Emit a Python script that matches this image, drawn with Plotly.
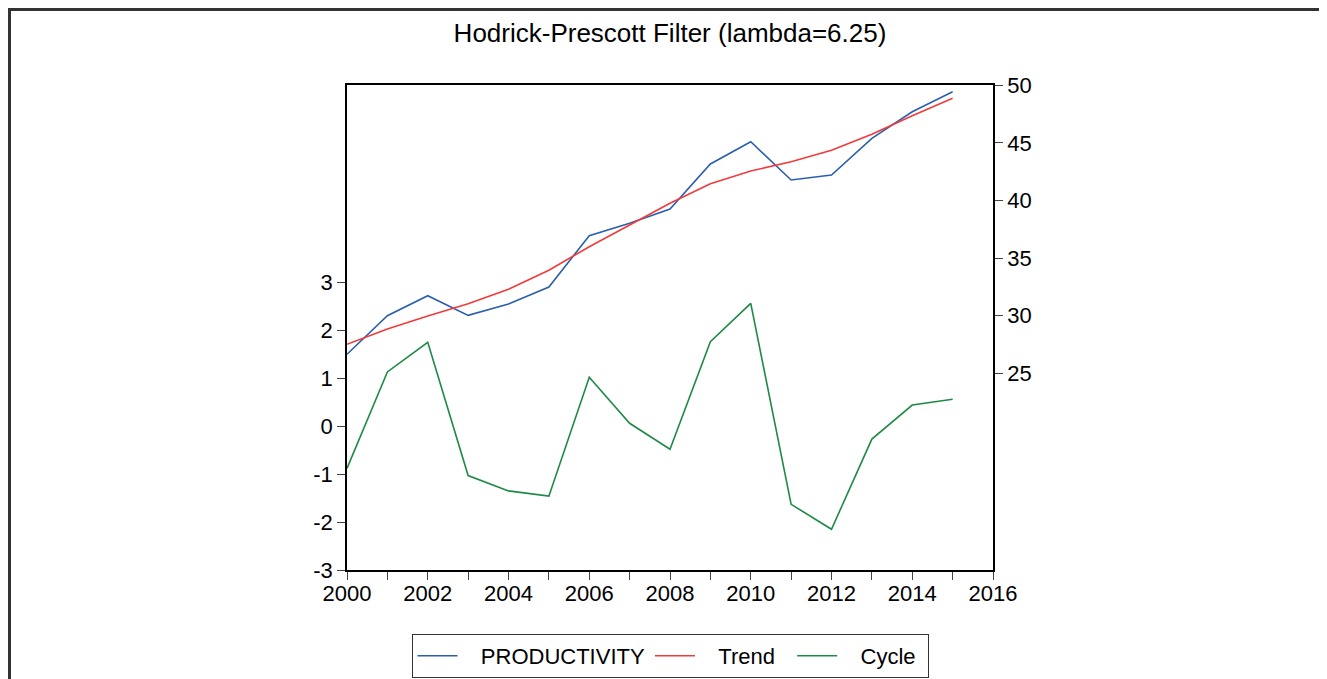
import plotly.graph_objects as go

years = list(range(2000, 2016))
productivity = [26.65, 30.00, 31.74, 30.03, 31.02, 32.49, 36.94, 38.02, 39.26, 43.17,
                45.10, 41.78, 42.21, 45.40, 47.70, 49.44]
trend = [27.52, 28.85, 29.97, 31.04, 32.29, 33.94, 35.99, 37.90, 39.76, 41.46,
         42.56, 43.37, 44.36, 45.75, 47.36, 48.87]
cycle = [-0.88, 1.13, 1.75, -1.03, -1.35, -1.46, 1.02, 0.06, -0.48, 1.76,
         2.56, -1.63, -2.15, -0.27, 0.44, 0.56]

x_tick_vals = list(range(2000, 2017))
x_tick_text = [str(v) if v % 2 == 0 else "" for v in x_tick_vals]
left_ticks = [-3, -2, -1, 0, 1, 2, 3]
left_tick_text = ["-3", "-2", "-1", "0", "1", "2", "3"]
right_ticks = [25, 30, 35, 40, 45, 50]

FONT = "Liberation Sans, Arial, sans-serif"
NB = "\u00a0"

fig = go.Figure()
fig.add_trace(go.Scatter(x=years, y=productivity, name=NB * 3 + "PRODUCTIVITY", mode="lines",
                         line=dict(color="#2B5FAE", width=1.6), yaxis="y2"))
fig.add_trace(go.Scatter(x=years, y=trend, name=NB * 3 + "Trend" + NB * 2, mode="lines",
                         line=dict(color="#F23A3A", width=1.6), yaxis="y2"))
fig.add_trace(go.Scatter(x=years, y=cycle, name=NB * 3 + "Cycle" + NB, mode="lines",
                         line=dict(color="#1E8A45", width=1.6), yaxis="y"))

# page has an 8px body margin; figure coordinates below are page coords minus 8
W, H = 1319, 671
L, R, T, B = 339, 985, 77, 562

axis_common = dict(showgrid=False, zeroline=False, showline=True, linecolor="#000000",
                   linewidth=1.5, ticks="outside", ticklen=8, tickcolor="#444444",
                   tickwidth=1.2, tickfont=dict(family=FONT, size=22, color="#000000"))

fig.update_layout(
    width=W, height=H,
    margin=dict(l=L, r=W - R, t=T, b=H - B, pad=0),
    paper_bgcolor="white", plot_bgcolor="white",
    font=dict(family=FONT, color="#000000"),
    title=dict(text="Hodrick-Prescott Filter (lambda=6.25)", x=0.5, xref="paper",
               y=1 - 25 / H, yref="container", xanchor="center", yanchor="middle",
               font=dict(family=FONT, size=26, color="#000000")),
    xaxis=dict(range=[2000, 2016], tickvals=x_tick_vals, ticktext=x_tick_text,
               mirror=True, ticklabelstandoff=-5, **axis_common),
    yaxis=dict(range=[-3, -3 + (B - T) / 47.95], tickvals=left_ticks,
               ticktext=left_tick_text, **axis_common),
    yaxis2=dict(range=[30 - (B + 8 - 315.7) / 11.52, 30 + (315.7 - T - 8) / 11.52],
                tickvals=right_ticks, overlaying="y", side="right", **axis_common),
    legend=dict(orientation="h", x=0.5, xanchor="center", xref="paper",
                y=1 - 626 / H, yref="container", yanchor="top",
                bordercolor="#333333", borderwidth=1, bgcolor="white",
                font=dict(family=FONT, size=22, color="#000000"),
                itemwidth=40, tracegroupgap=0),
    showlegend=True,
)

# outer frame (top and left edges visible in the reference)
px2x = lambda px: (px - L) / (R - L)
px2y = lambda py: (B - py) / (B - T)
fig.add_shape(type="line", xref="paper", yref="paper",
              x0=px2x(0), x1=px2x(W + 5), y0=px2y(1.5), y1=px2y(1.5),
              line=dict(color="#333333", width=3))
fig.add_shape(type="line", xref="paper", yref="paper",
              x0=px2x(1.5), x1=px2x(1.5), y0=px2y(0), y1=px2y(H + 5),
              line=dict(color="#333333", width=3))

fig.write_html("out.html")
